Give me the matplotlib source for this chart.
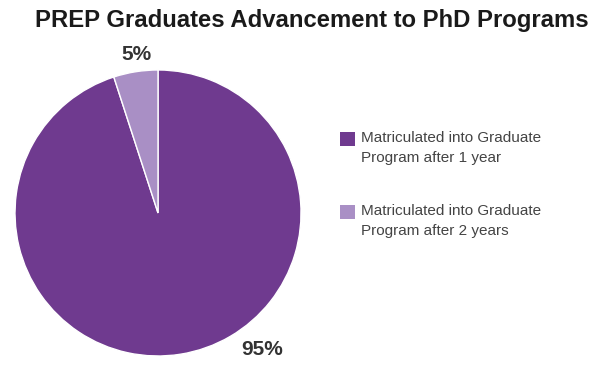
import matplotlib.pyplot as plt
from matplotlib.patches import Rectangle
import numpy as np

plt.rcParams['font.family'] = ['Liberation Sans', 'DejaVu Sans']

labels = ['Matriculated into Graduate\nProgram after 1 year',
          'Matriculated into Graduate\nProgram after 2 years']
values = [95, 5]
colors = ['#6F3A8F', '#A98FC5']
pct_text = ['95%', '5%']

W, H = 600, 375
fig = plt.figure(figsize=(6, 3.75), dpi=100)
fig.text(312 / W, 1 - 21 / H, 'PREP Graduates Advancement to PhD Programs',
         ha='center', va='center', fontsize=17.2, fontweight='bold', color='#1a1a1a')

ax = fig.add_axes([0.025, 0.0507, 0.4767, 0.7627])
wedges, _ = ax.pie(values, colors=colors, startangle=90, counterclock=False,
                   wedgeprops=dict(edgecolor='white', linewidth=1))
ax.set_xlim(-1, 1)
ax.set_ylim(-1, 1)
ax.set_aspect('equal')

# percentage labels placed outside the pie
label_pos = [(-52.8, 1.2), (97.6, 1.115)]
for txt, (ang, dist) in zip(pct_text, label_pos):
    a = np.deg2rad(ang)
    ax.text(dist * np.cos(a), dist * np.sin(a), txt, ha='center', va='center',
            fontsize=15, fontweight='bold', color='#333333', clip_on=False)

# legend, squares aligned with first line of each label
entry_top = [132, 205]
for w, lab, top in zip(wedges, labels, entry_top):
    fig.patches.append(Rectangle((340 / W, 1 - (top + 14) / H), 15 / W, 14 / H,
                                 facecolor=w.get_facecolor(), edgecolor='none',
                                 transform=fig.transFigure, figure=fig))
    fig.text(361 / W, 1 - (top - 1) / H, lab, ha='left', va='top',
             fontsize=11, color='#444444', linespacing=1.55)

fig.savefig('out.png', dpi=100)
